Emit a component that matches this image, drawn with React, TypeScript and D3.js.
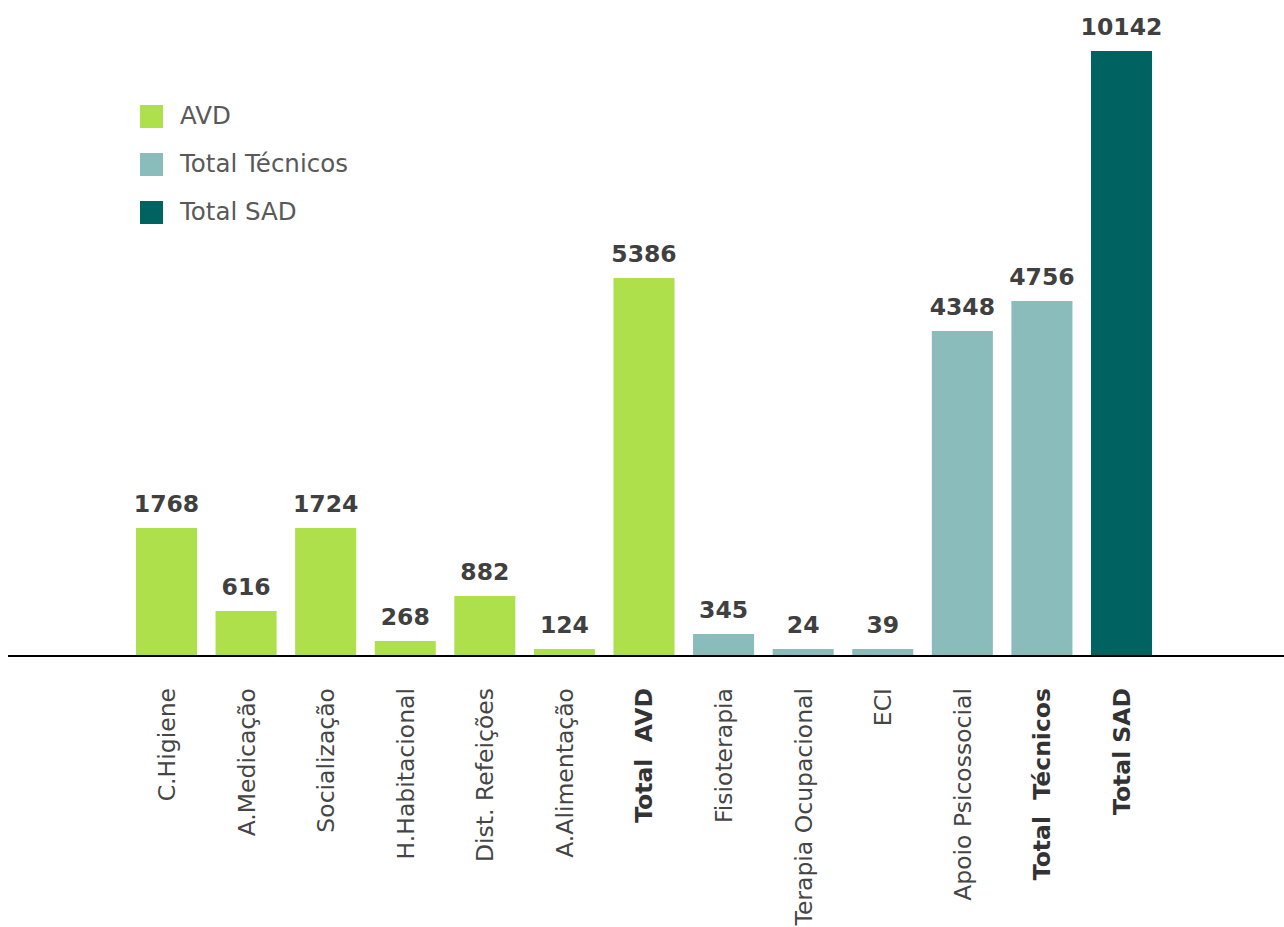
import React from "react";
import * as d3 from "d3";

const categories = [
  "C.Higiene",
  "A.Medicação",
  "Socialização",
  "H.Habitacional",
  "Dist. Refeições",
  "A.Alimentação",
  "Total  AVD",
  "Fisioterapia",
  "Terapia Ocupacional",
  "ECI",
  "Apoio Psicossocial",
  "Total  Técnicos",
  "Total SAD",
];
// printed value labels
const values = [1768, 616, 1724, 268, 882, 124, 5386, 345, 24, 39, 4348, 4756, 10142];
// drawn bar lengths (the bars are not proportional to the labels)
const barLengths = [2146, 754, 2146, 251, 1006, 117, 6337, 369, 117, 117, 5448, 5951, 10142];
const groups = ["AVD", "AVD", "AVD", "AVD", "AVD", "AVD", "AVD", "Total Técnicos", "Total Técnicos", "Total Técnicos", "Total Técnicos", "Total Técnicos", "Total SAD"];
const boldLabels = [false, false, false, false, false, false, true, false, false, false, false, true, true];
const legendItems = ["AVD", "Total Técnicos", "Total SAD"];
const colors = ["#ADE04A", "#8ABCBC", "#016262"];

const W = 1284;
const H = 927;
const FONT = "'DejaVu Sans', Verdana, sans-serif";

export default function App() {
  const x = d3.scaleBand<string>().domain(categories).range([126.7, 1161.3]).paddingInner(0.233).paddingOuter(0.1165);
  const y = d3.scaleLinear().domain([0, 10142]).range([656, 51]);
  const color = d3.scaleOrdinal<string, string>().domain(legendItems).range(colors);

  return (
    <svg width={W} height={H} style={{ position: "absolute", left: 0, top: 0, background: "#fff" }} fontFamily={FONT}>
      {categories.map((c, i) => {
        const bx = x(c)!;
        const top = y(barLengths[i]);
        return (
          <g key={c}>
            <rect x={bx} y={top} width={x.bandwidth()} height={y(0) - top} fill={color(groups[i])} />
            <text x={bx + x.bandwidth() / 2} y={top - 16} textAnchor="middle" fontWeight="bold" fontSize={23.5} fill="#404040">
              {values[i]}
            </text>
            <text
              transform={`translate(${bx + x.bandwidth() / 2},688) rotate(-90)`}
              textAnchor="end"
              dy="0.36em"
              fontSize={23.5}
              fontWeight={boldLabels[i] ? "bold" : "normal"}
              fill={boldLabels[i] ? "#333333" : "#454545"}
              style={{ whiteSpace: "pre" }}
            >
              {c}
            </text>
          </g>
        );
      })}
      <line x1={8} x2={1284} y1={y(0)} y2={y(0)} stroke="#000" strokeWidth={2} />
      {legendItems.map((l, i) => (
        <g key={l} transform={`translate(140,${105 + i * 48})`}>
          <rect width={23} height={23} fill={color(l)} />
          <text x={40} y={19} fontSize={24.5} fill="#595959">{l}</text>
        </g>
      ))}
    </svg>
  );
}
